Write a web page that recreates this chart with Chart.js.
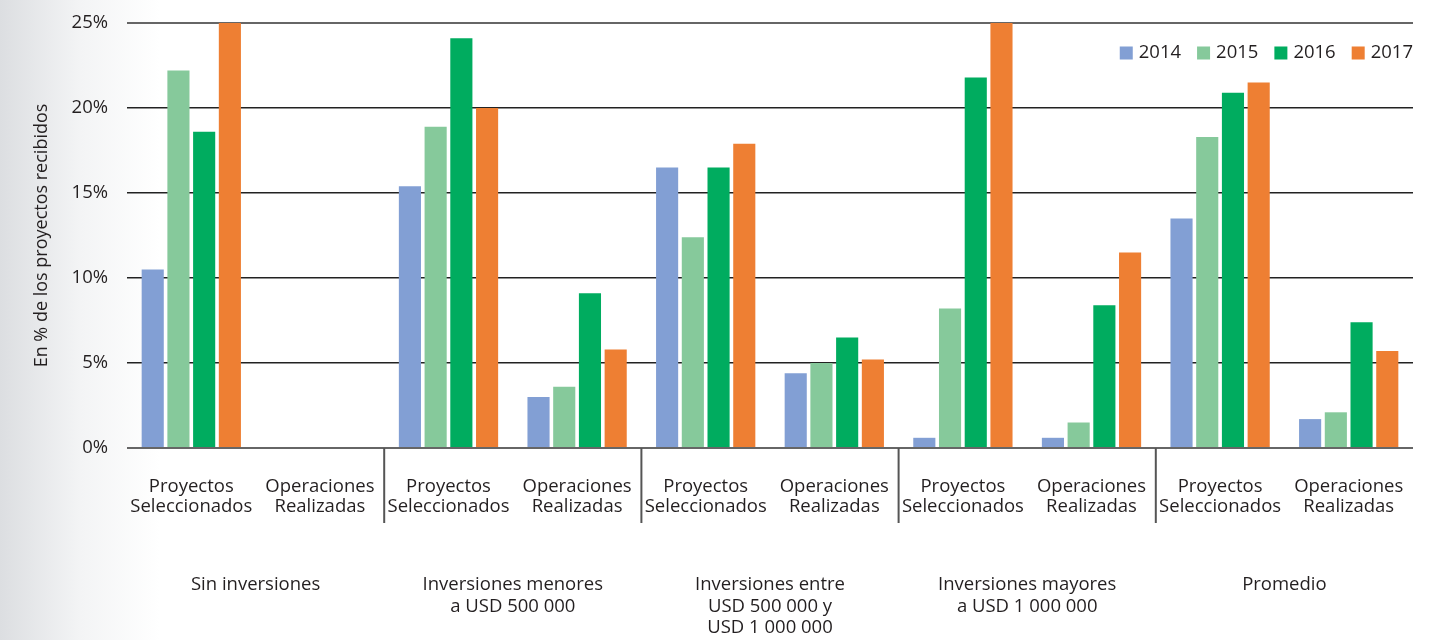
<!DOCTYPE html>
<html>
<head>
<meta charset="utf-8">
<script src="https://cdn.jsdelivr.net/npm/chart.js@4"></script>
<style>
  html, body { margin: 0; padding: 0; }
  body {
    width: 1443px; height: 640px;
    background: linear-gradient(to right, #dcdee1 0px, #f3f4f5 80px, #ffffff 160px);
  }
  #wrap { position: relative; width: 1443px; height: 640px; }
</style>
</head>
<body>
<div id="wrap"><canvas id="chart"></canvas></div>
<script>
const categories = [
  ['Proyectos', 'Seleccionados'], ['Operaciones', 'Realizadas'],
  ['Proyectos', 'Seleccionados'], ['Operaciones', 'Realizadas'],
  ['Proyectos', 'Seleccionados'], ['Operaciones', 'Realizadas'],
  ['Proyectos', 'Seleccionados'], ['Operaciones', 'Realizadas'],
  ['Proyectos', 'Seleccionados'], ['Operaciones', 'Realizadas']
];
const groups = [
  ['Sin inversiones'],
  ['Inversiones menores', 'a USD 500 000'],
  ['Inversiones entre', 'USD 500 000 y', 'USD 1 000 000'],
  ['Inversiones mayores', 'a USD 1 000 000'],
  ['Promedio']
];
const years = ['2014', '2015', '2016', '2017'];
const v2014 = [10.5, null, 15.4, 3.0, 16.5, 4.4, 0.6, 0.6, 13.5, 1.7];
const v2015 = [22.2, null, 18.9, 3.6, 12.4, 5.0, 8.2, 1.5, 18.3, 2.1];
const v2016 = [18.6, null, 24.1, 9.1, 16.5, 6.5, 21.8, 8.4, 20.9, 7.4];
const v2017 = [25.0, null, 20.0, 5.8, 17.9, 5.2, 25.0, 11.5, 21.5, 5.7];
const yTicks = [0, 5, 10, 15, 20, 25];

const colors = ['#829fd4', '#86c99b', '#00ac5f', '#ee7f33'];
const FONT = '"Open Sans", sans-serif';
const FS = 18.5;
const TEXT = '#231f20';

// group dividers under the axis, group titles, and the legend in the plot corner
const extras = {
  id: 'extras',
  afterDraw(chart) {
    const ctx = chart.ctx;
    const x = chart.scales.x;
    const area = chart.chartArea;
    ctx.save();
    ctx.strokeStyle = '#555';
    ctx.lineWidth = 2;
    for (let g = 1; g < groups.length; g++) {
      const px = (x.getPixelForValue(g * 2 - 1) + x.getPixelForValue(g * 2)) / 2;
      ctx.beginPath();
      ctx.moveTo(px, area.bottom);
      ctx.lineTo(px, area.bottom + 75);
      ctx.stroke();
    }
    ctx.fillStyle = TEXT;
    ctx.font = FS + 'px ' + FONT;
    ctx.textAlign = 'center';
    ctx.textBaseline = 'middle';
    groups.forEach((lines, g) => {
      const px = (x.getPixelForValue(g * 2) + x.getPixelForValue(g * 2 + 1)) / 2;
      lines.forEach((t, i) => ctx.fillText(t, px, area.bottom + 137 + i * 21.5));
    });

    // legend
    const ds = chart.data.datasets;
    const box = 13, gap = 6, space = 16, ly = area.top + 30;
    let lx = area.right;
    for (let i = ds.length - 1; i >= 0; i--) {
      const w = ctx.measureText(ds[i].label).width;
      lx -= w;
      ctx.textAlign = 'left';
      ctx.fillStyle = TEXT;
      ctx.fillText(ds[i].label, lx, ly);
      lx -= gap + box;
      ctx.fillStyle = ds[i].backgroundColor;
      ctx.fillRect(lx, ly - box / 2, box, box);
      lx -= space;
    }
    ctx.restore();
  }
};

new Chart(document.getElementById('chart'), {
  type: 'bar',
  data: {
    labels: categories,
    datasets: [v2014, v2015, v2016, v2017].map((d, i) => ({
      label: years[i],
      data: d,
      backgroundColor: colors[i],
      categoryPercentage: 0.8,
      barPercentage: 0.86
    }))
  },
  options: {
    responsive: true,
    maintainAspectRatio: false,
    animation: false,
    layout: { padding: { top: 23, right: 30, left: 0, bottom: 0 } },
    plugins: {
      legend: { display: false },
      tooltip: { enabled: false }
    },
    scales: {
      x: {
        grid: { display: false, drawTicks: false },
        border: { display: false },
        ticks: {
          autoSkip: false,
          maxRotation: 0,
          padding: 29,
          color: TEXT,
          font: { size: FS, family: FONT, lineHeight: 1.08 }
        },
        afterFit: (s) => { s.height = 192; }
      },
      y: {
        min: 0,
        max: 25,
        afterBuildTicks: (s) => { s.ticks = yTicks.map(v => ({ value: v })); },
        grid: {
          drawTicks: true,
          tickLength: 19,
          tickColor: 'transparent',
          color: (c) => (c.tick.value === 0 || c.tick.value === 25) ? '#666' : '#222',
          lineWidth: (c) => (c.tick.value === 0 || c.tick.value === 25) ? 2 : 1.5
        },
        border: { display: false },
        ticks: {
          padding: 0,
          color: TEXT,
          font: { size: FS, family: FONT },
          callback: (v) => v + '%'
        },
        title: {
          display: true,
          text: 'En % de los proyectos recibidos',
          color: TEXT,
          font: { size: 18, family: FONT },
          padding: { top: 31, bottom: 0 }
        },
        afterFit: (s) => { s.width = 127; }
      }
    }
  },
  plugins: [extras]
});
</script>
</body>
</html>
